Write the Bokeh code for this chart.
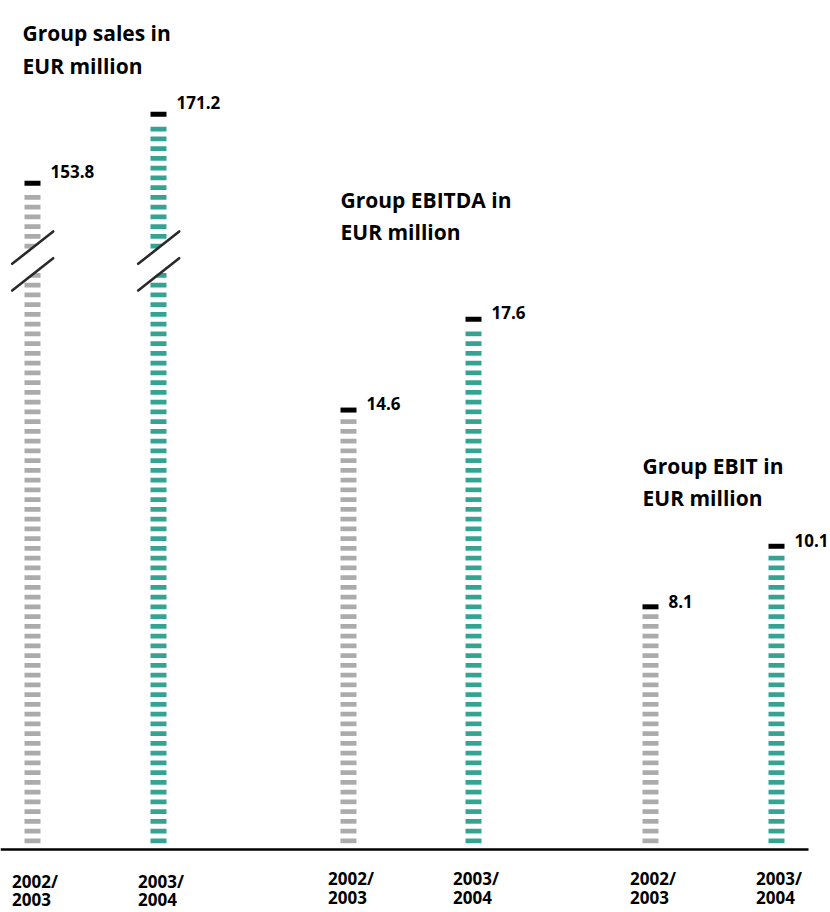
from bokeh.plotting import figure
from bokeh.models import Range1d
from bokeh.core.properties import value
from bokeh.embed import file_html
from bokeh.resources import INLINE

# ---------------- data ----------------
periods = ["2002/2003", "2003/2004"]
group_titles = [["Group sales in", "EUR million"],
                ["Group EBITDA in", "EUR million"],
                ["Group EBIT in", "EUR million"]]
sales = [153.8, 171.2]
ebitda = [14.6, 17.6]
ebit = [8.1, 10.1]
value_labels_fmt = "{:.1f}"

# ---------------- layout / style ----------------
W, H = 830, 912
BASE_PX = 849.0          # baseline, px from top
PX_PER_UNIT = 30.27      # px per EUR million (EBITDA / EBIT scale)
PX = 1.0 / PX_PER_UNIT   # one pixel in data units

# sales are drawn on a broken (compressed) axis
SALES_COMPRESS = 0.1310
SALES_OFFSET = 1.947

def sales_display(v):
    return SALES_OFFSET + v * SALES_COMPRESS

def py(px_from_top):
    return (BASE_PX - px_from_top) / PX_PER_UNIT

GRAY = "#ababab"
TEAL = "#34a392"
COLORS = [GRAY, TEAL]
FONT = value("Open Sans")

bar_centers = [[32, 158], [348, 473], [650, 776]]
BAR_W = 16
label_dy = [-9, -4, -3]
title_pos = [(22, 32, 65), (340, 199.5, 231.5), (642, 465.5, 497.5)]
# period label lines: top of glyphs (px from top of page)
year_top_px = [(869.0, 892.0), (866.0, 890.0), (866.0, 890.0)]

series = [[sales_display(v) for v in sales], list(ebitda), list(ebit)]
raw = [sales, ebitda, ebit]

p = figure(width=W, height=H, output_backend="svg", toolbar_location=None,
           x_range=Range1d(0, W),
           y_range=Range1d(-(H - BASE_PX) / PX_PER_UNIT, BASE_PX / PX_PER_UNIT),
           min_border=0, min_border_left=0, min_border_right=0,
           min_border_top=0, min_border_bottom=0)
p.axis.visible = False
p.grid.visible = False
p.outline_line_color = None
p.background_fill_color = "white"
p.border_fill_color = "white"

PERIOD = 9.75 * PX
STRIPE_H = 4.7 * PX
BOTTOM0 = 6.3 * PX
CAP_H = 5.0 * PX

sl, sr, sb, st, sc = [], [], [], [], []
cl, cr, cb, ct = [], [], [], []
for g in range(3):
    for i in range(2):
        h = series[g][i]
        cx = bar_centers[g][i]
        cap_bottom = h - CAP_H
        k = 0
        while True:
            b = BOTTOM0 + k * PERIOD
            t = b + STRIPE_H
            if t > cap_bottom - 2.5 * PX:
                break
            sl.append(cx - BAR_W / 2); sr.append(cx + BAR_W / 2)
            sb.append(b); st.append(t); sc.append(COLORS[i])
            k += 1
        cl.append(cx - BAR_W / 2); cr.append(cx + BAR_W / 2)
        cb.append(cap_bottom); ct.append(h)

p.quad(left=sl, right=sr, bottom=sb, top=st, fill_color=sc, line_color=None)
p.quad(left=cl, right=cr, bottom=cb, top=ct, fill_color="black", line_color=None)

# axis break marks on the sales bars
by_l1, by_r1, by_l2, by_r2 = py(263.3), py(231.0), py(290.0), py(257.7)
pxs, pys = [], []
sx0, sy0, sx1, sy1 = [], [], [], []
for cx in bar_centers[0]:
    xl, xr = cx - 20.3, cx + 20.7
    pxs.append([xl, xr, xr, xl])
    pys.append([by_l1, by_r1, by_r2 + 1.5 * PX, by_l2 + 1.5 * PX])
    sx0 += [xl, xl]; sy0 += [by_l1, by_l2]
    sx1 += [xr, xr]; sy1 += [by_r1, by_r2]
p.patches(xs=pxs, ys=pys, fill_color="white", line_color=None)
p.segment(x0=sx0, y0=sy0, x1=sx1, y1=sy1, line_color="#2a2a2a",
          line_width=2.6, line_cap="round")

# baseline
p.segment(x0=[0], y0=[0], x1=[808], y1=[0], line_color="black", line_width=2.6)

# value labels
lx, ly, lt, lo = [], [], [], []
for g in range(3):
    for i in range(2):
        lx.append(bar_centers[g][i] + BAR_W / 2 + 10)
        ly.append(series[g][i])
        lt.append(value_labels_fmt.format(raw[g][i]))
        lo.append(label_dy[g])
p.text(x=lx, y=ly, text=lt, y_offset=lo, text_font=FONT, text_font_style="bold",
       text_font_size="17px", text_color="black", text_baseline="alphabetic",
       text_align="left")

# titles
tx, ty, tt = [], [], []
for g in range(3):
    x0, b1, b2 = title_pos[g]
    tx += [x0, x0]; ty += [py(b1), py(b2)]
    tt += group_titles[g]
p.text(x=tx, y=ty, text=tt, text_font=FONT, text_font_style="bold",
       text_font_size="21px", text_color="black", text_baseline="alphabetic",
       text_align="left")

# period labels
yx, yy, yt = [], [], []
for g in range(3):
    for i in range(2):
        a, b = periods[i].split("/")
        x0 = bar_centers[g][i] - BAR_W / 2 - 12.5
        yx += [x0, x0]
        yy += [py(year_top_px[g][0]), py(year_top_px[g][1])]
        yt += [a + "/", b]
p.text(x=yx, y=yy, text=yt, text_font=FONT, text_font_style="bold",
       text_font_size="17px", text_color="black", text_baseline="top",
       text_align="left")

open("out.html", "w").write(file_html(p, INLINE))
